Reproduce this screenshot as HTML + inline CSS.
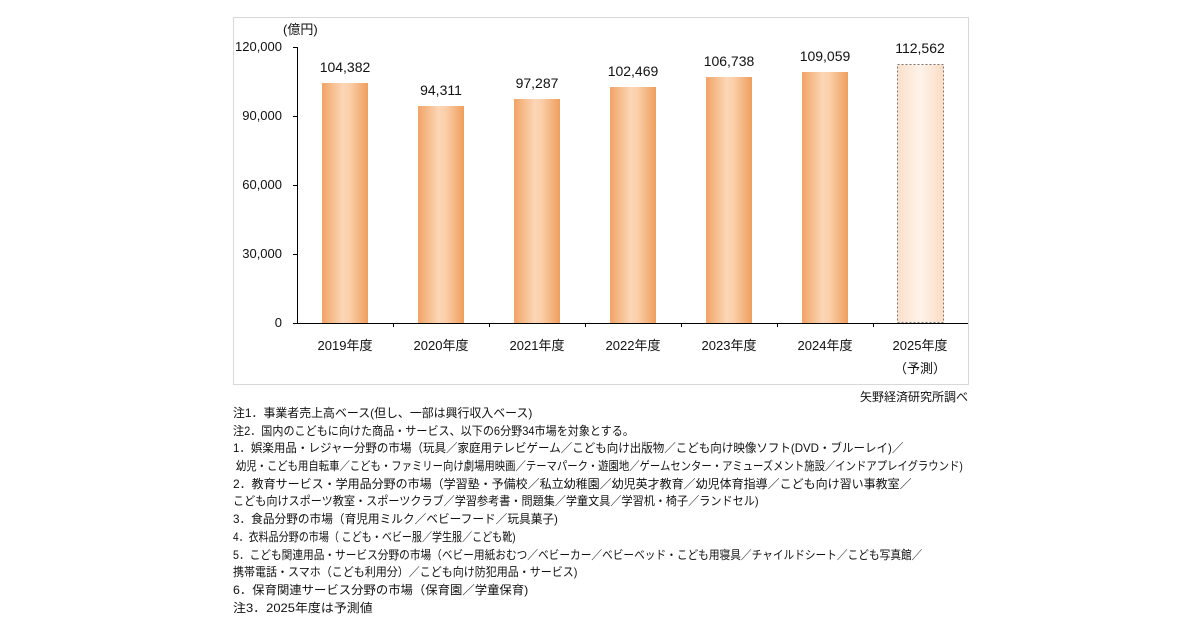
<!DOCTYPE html>
<html><head><meta charset="utf-8"><style>
html,body{margin:0;padding:0;background:#fff;width:1200px;height:630px;overflow:hidden}
svg{position:absolute;left:0;top:0}
text{font-family:"Liberation Sans","Noto Sans CJK JP",sans-serif;fill:#111}
.n{position:absolute;left:233px;font-family:"Liberation Sans","Noto Sans CJK JP",sans-serif;font-size:12px;color:#111;white-space:nowrap;line-height:17.7px;top:405px}
.n span{display:block;transform-origin:0 50%;height:17.7px}
</style></head><body>
<svg width="1200" height="630" viewBox="0 0 1200 630">
<defs>
<linearGradient id="g" x1="0" x2="1" y1="0" y2="0">
<stop offset="0" stop-color="#f0a466"/><stop offset="0.45" stop-color="#fcd6b6"/><stop offset="0.6" stop-color="#fbcfaa"/><stop offset="1" stop-color="#ef9e5c"/></linearGradient>
<linearGradient id="g2" x1="0" x2="1" y1="0" y2="0">
<stop offset="0" stop-color="#fbe0cb"/><stop offset="0.5" stop-color="#fef3ea"/><stop offset="1" stop-color="#fbdcc4"/></linearGradient>
</defs>
<rect x="233.5" y="17.5" width="735" height="367" fill="#fff" stroke="#d8d8d8"/>
<text x="283" y="34" font-size="13">(億円)</text>
<g font-size="13" text-anchor="end">
<text x="282" y="51">120,000</text><text x="282" y="120">90,000</text><text x="282" y="189">60,000</text><text x="282" y="258">30,000</text><text x="282" y="327">0</text></g>
<g stroke="#000" stroke-width="1">
<line x1="297.5" y1="47" x2="297.5" y2="323"/>
<line x1="293" y1="47.5" x2="297" y2="47.5"/><line x1="293" y1="116.5" x2="297" y2="116.5"/><line x1="293" y1="185.5" x2="297" y2="185.5"/><line x1="293" y1="254.5" x2="297" y2="254.5"/>
<line x1="293" y1="323.5" x2="968" y2="323.5"/>
<line x1="393.5" y1="323" x2="393.5" y2="327"/><line x1="489.5" y1="323" x2="489.5" y2="327"/><line x1="585.5" y1="323" x2="585.5" y2="327"/><line x1="681.5" y1="323" x2="681.5" y2="327"/><line x1="777.5" y1="323" x2="777.5" y2="327"/><line x1="873.5" y1="323" x2="873.5" y2="327"/>
</g>
<g fill="url(#g)">
<rect x="322" y="83" width="46" height="240"/>
<rect x="418" y="106" width="46" height="217"/>
<rect x="514" y="99" width="46" height="224"/>
<rect x="610" y="87" width="46" height="236"/>
<rect x="706" y="77" width="46" height="246"/>
<rect x="802" y="72" width="46" height="251"/>
</g>
<rect x="897.5" y="64.5" width="46" height="258" fill="url(#g2)" stroke="#777" stroke-dasharray="2,2"/>
<g font-size="14" text-anchor="middle">
<text x="345" y="72">104,382</text><text x="441" y="95">94,311</text><text x="537" y="88">97,287</text><text x="633" y="76">102,469</text><text x="729" y="66">106,738</text><text x="825" y="61">109,059</text><text x="920" y="53">112,562</text>
</g>
<g font-size="13" text-anchor="middle">
<text x="345" y="350">2019年度</text><text x="441" y="350">2020年度</text><text x="537" y="350">2021年度</text><text x="633" y="350">2022年度</text><text x="729" y="350">2023年度</text><text x="825" y="350">2024年度</text><text x="920" y="350">2025年度</text><text x="920" y="373">（予測）</text>
</g>
<text x="968" y="401" font-size="12" text-anchor="end">矢野経済研究所調べ</text>
</svg>
<div class="n">
<span style="transform:scaleX(.993)">注1．事業者売上高ベース(但し、一部は興行収入ベース)</span>
<span style="transform:scaleX(.923)">注2．国内のこどもに向けた商品・サービス、以下の6分野34市場を対象とする。</span>
<span style="transform:scaleX(.959)">1．娯楽用品・レジャー分野の市場（玩具／家庭用テレビゲーム／こども向け出版物／こども向け映像ソフト(DVD・ブルーレイ)／</span>
<span style="transform:scaleX(.863)">&nbsp;幼児・こども用自転車／こども・ファミリー向け劇場用映画／テーマパーク・遊園地／ゲームセンター・アミューズメント施設／インドアプレイグラウンド)</span>
<span style="transform:scaleX(1)">2．教育サービス・学用品分野の市場（学習塾・予備校／私立幼稚園／幼児英才教育／幼児体育指導／こども向け習い事教室／</span>
<span style="transform:scaleX(.926)">こども向けスポーツ教室・スポーツクラブ／学習参考書・問題集／学童文具／学習机・椅子／ランドセル)</span>
<span style="transform:scaleX(.973)">3．食品分野の市場（育児用ミルク／ベビーフード／玩具菓子)</span>
<span style="transform:scaleX(.836)">4．衣料品分野の市場（ こども・ベビー服／学生服／こども靴)</span>
<span style="transform:scaleX(.89)">5．こども関連用品・サービス分野の市場（ベビー用紙おむつ／ベビーカー／ベビーベッド・こども用寝具／チャイルドシート／こども写真館／</span>
<span style="transform:scaleX(.917)">携帯電話・スマホ（こども利用分）／こども向け防犯用品・サービス)</span>
<span style="transform:scaleX(1.03)">6．保育関連サービス分野の市場（保育園／学童保育)</span>
<span style="transform:scaleX(1.08)">注3．2025年度は予測値</span>
</div>
</body></html>
